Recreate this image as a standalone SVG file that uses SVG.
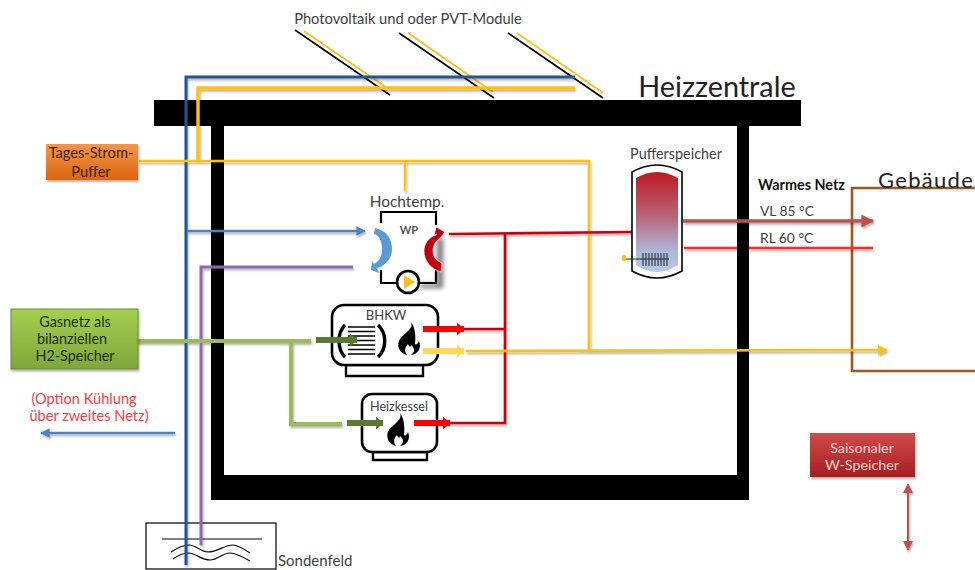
<svg xmlns="http://www.w3.org/2000/svg" width="975" height="570" viewBox="0 0 975 570">
<defs>
<linearGradient id="orange" x1="0" y1="0" x2="0" y2="1"><stop offset="0" stop-color="#f79646"/><stop offset="1" stop-color="#d9650f"/></linearGradient>
<linearGradient id="green" x1="0" y1="0" x2="0" y2="1"><stop offset="0" stop-color="#a4d04f"/><stop offset="1" stop-color="#7fa63a"/></linearGradient>
<linearGradient id="red" x1="0" y1="0" x2="0" y2="1"><stop offset="0" stop-color="#d04a4a"/><stop offset="1" stop-color="#a51f22"/></linearGradient>
<linearGradient id="tank" x1="0" y1="0" x2="0" y2="1"><stop offset="0" stop-color="#bb1a22"/><stop offset="0.45" stop-color="#b9667a"/><stop offset="0.8" stop-color="#adb9dc"/><stop offset="1" stop-color="#b4c8ea"/></linearGradient>
<filter id="sh" x="-20%" y="-20%" width="140%" height="150%"><feDropShadow dx="1" dy="2" stdDeviation="1.2" flood-color="#000" flood-opacity="0.3"/></filter>
<filter id="blur" x="-100%" y="-20%" width="300%" height="140%"><feGaussianBlur stdDeviation="2.5"/></filter>
<marker id="mBlue" viewBox="0 0 10 10" refX="9" refY="5" markerWidth="4" markerHeight="4" orient="auto-start-reverse"><path d="M0 0L10 5L0 10z" fill="#4f81bd"/></marker>
<marker id="mBrick" viewBox="0 0 10 10" refX="9" refY="5" markerWidth="3.8" markerHeight="3.8" orient="auto-start-reverse"><path d="M0 0L10 5L0 10z" fill="#c0504d"/></marker>
<marker id="mBrick2" viewBox="0 0 10 10" refX="9" refY="5" markerWidth="5" markerHeight="5" orient="auto-start-reverse"><path d="M0 0L10 5L0 10z" fill="#c0504d"/></marker>
<marker id="mYel" viewBox="0 0 10 10" refX="9" refY="5" markerWidth="4" markerHeight="4" orient="auto"><path d="M0 0L10 5L0 10z" fill="#fdc010"/></marker>
<marker id="mRed" viewBox="0 0 6 10" refX="5.500" refY="5" markerWidth="1.300" markerHeight="2.200" orient="auto"><path d="M0 0L6 5L0 10z" fill="#ff0000"/></marker>
<marker id="mPale" viewBox="0 0 6 10" refX="5.500" refY="5" markerWidth="1.300" markerHeight="2.200" orient="auto"><path d="M0 0L6 5L0 10z" fill="#ffd854"/></marker>
<marker id="mDk" viewBox="0 0 6 10" refX="5.500" refY="5" markerWidth="1.300" markerHeight="2.200" orient="auto"><path d="M0 0L6 5L0 10z" fill="#5a7a30"/></marker>
<path id="flame" d="M3 -17C6 -10 -3 -7 -8 0C-12 6 -9 14 -1 16C-4 12 -3 8 0 5C1 8 3 9 3 6C7 9 7 13 3 16C10 15 14 9 11 2C10 5 8 6 7 5C8 -3 7 -12 3 -17z" fill="#000"/>
</defs>
<style>
text{font-family:"Lato","Open Sans","Liberation Sans",sans-serif;fill:#404040}
.c{text-anchor:middle}
.l{fill:none;stroke-linecap:butt;stroke-linejoin:miter}
.b{stroke:#1f5796;stroke-width:3}
.y{stroke:#fdc010}
.pk{stroke:#8b6bb1;stroke-width:3}
.g{stroke:#9bbb59;stroke-width:4}
.r{stroke:#c8000f;stroke-width:2.6}
.bk{stroke:#000;stroke-width:1.6}
.out{fill:#fff;stroke:#000;stroke-width:2.6}
</style>
<rect width="975" height="570" fill="#fff"/>

<g id="heizzentrale">
<path d="M154 100H801V126H749V500H211V126H154Z M224 126V475H737V126Z" fill="#000" fill-rule="evenodd"/>
<text x="717" y="97" class="c" font-size="28.8" style="fill:#222">Heizzentrale</text>
</g>

<g id="pv-module">
<text x="408" y="24" class="c" font-size="14.7">Photovoltaik und oder PVT-Module</text>
<g class="l bk"><path d="M295 30L390 95"/><path d="M399 33L494 98"/><path d="M508 33L603 98"/></g>
<g class="l y" stroke-width="1.8"><path d="M304 31L387 88"/><path d="M408 33L493 92"/><path d="M517 33L603 93"/></g>
</g>

<g id="sondenfeld">
<rect x="146" y="523" width="130" height="46" fill="none" stroke="#000" stroke-width="1.2"/>
<path d="M162 539H262" stroke="#000" stroke-width="1.2"/>
<path d="M171 552C180 546 184 545 189 545C196 545 201 552 208 552C218 552 224 545 233 545C238 545 244 549 250 553M173 559C180 554 184 553 188 553C196 553 201 560 210 560C218 560 222 553 230 553C236 553 243 557 250 561" fill="none" stroke="#000" stroke-width="1.2"/>
<text x="278" y="566" font-size="15">Sondenfeld</text>
</g>

<g id="gebaeude">
<path d="M975 188H852V371H975" fill="none" stroke="#a5561c" stroke-width="2.6"/>
<text x="878" y="188" font-size="22" letter-spacing="1.300" style="fill:#222">Gebäude</text>
</g>

<g id="connectors">
<g filter="url(#sh)">
<path class="l b" d="M575 77H186V565"/>
<path class="l y" stroke-width="3.4" d="M575 88H198V161"/>
<path class="l y" stroke-width="2.6" d="M139 161H589V352"/>
<path class="l y" stroke-width="2.4" d="M405 161V191"/>
<path class="l" stroke="#4f81bd" stroke-width="2.4" marker-end="url(#mBlue)" d="M187 231H365"/>
<path class="l pk" d="M353 267H201V545"/>
<path class="l g" d="M136 341H311"/>
<path class="l g" d="M291 341V424H342"/>
<path class="l r" d="M449 234L632 232"/>
<path class="l r" d="M505 234V423H450"/>
<path class="l r" d="M464 329H505"/>
<path class="l y" stroke-width="2.6" marker-end="url(#mYel)" d="M466 351L887 350"/>
<path class="l" stroke="#c0504d" stroke-width="3.4" marker-end="url(#mBrick)" d="M683 221H873"/>
<path class="l" stroke="#ff2a2a" stroke-width="2.4" d="M684 248H737M749 248H873"/>
<path class="l" stroke="#4f81bd" stroke-width="2.4" marker-end="url(#mBlue)" d="M175 433H41"/>
<path class="l" stroke="#c0504d" stroke-width="2" marker-start="url(#mBrick2)" marker-end="url(#mBrick2)" d="M908 484V550"/>
</g>
</g>

<g id="tages-strom-puffer">
<rect x="46" y="144" width="92" height="36" fill="url(#orange)" filter="url(#sh)"/>
<text class="c" font-size="14.6" style="fill:#3b2410"><tspan x="91" y="158">Tages-Strom-</tspan><tspan x="91" y="177">Puffer</tspan></text>
</g>

<g id="gasnetz">
<rect x="11" y="309" width="127" height="60" fill="url(#green)" stroke="#6a8a30" filter="url(#sh)"/>
<text class="c" font-size="14.4" style="fill:#22300c"><tspan x="75" y="327">Gasnetz als</tspan><tspan x="72" y="344">bilanziellen</tspan><tspan x="75" y="361">H2-Speicher</tspan></text>
</g>

<g id="option-kuehlung">
<text class="c" font-size="14.6" style="fill:#ff3b3b"><tspan x="84" y="404">(Option Kühlung</tspan><tspan x="89" y="421">über zweites Netz)</tspan></text>
</g>

<g id="waermepumpe">
<text x="407" y="207" class="c" font-size="15.4">Hochtemp.</text>
<path d="M437 238H443V288H420V284H437Z" fill="#000" opacity="0.55" filter="url(#blur)"/>
<path d="M381 223V212H436V225M436 270V283H419M397 283H381V270" fill="none" stroke="#000" stroke-width="2.2"/>
<text x="409" y="234" class="c" font-size="11" font-weight="700" style="fill:#555">WP</text>
<path d="M375 228C388 231 392 240 392 249C392 259 385 266 377 268L379 273L371 270L372 261L374 264C380 261 382 256 382 249C382 241 379 235 374 234Z" fill="#5b9bd5"/>
<path d="M441 237L445 232L436 227L434 236L437 234C428 238 424 244 424 251C424 261 431 269 441 272L442 263C437 261 433 257 433 251C433 245 436 241 441 237Z" fill="#c00010" stroke="#fff" stroke-width="0.6"/>
<circle cx="408" cy="282" r="11" fill="#fff" stroke="#000" stroke-width="2.6"/>
<path d="M404 275L415 282L404 289z" fill="#fdc010"/>
</g>

<g id="bhkw">
<path d="M346 365H423V376H346Z" fill="#fff" stroke="#000" stroke-width="2.4"/>
<rect x="332" y="305" width="106" height="60" rx="12" class="out"/>
<text x="386" y="320" class="c" font-size="13">BHKW</text>
<g stroke="#000" stroke-width="1.4"><path d="M348 327H375M348 331.500H375M348 336H375M348 340.500H375M348 345H375M348 349.500H375M348 354H375"/></g>
<path d="M345 325C337 333 337 349 345 357" fill="none" stroke="#000" stroke-width="3.4"/>
<path d="M378 325C387 333 387 349 378 357" fill="none" stroke="#000" stroke-width="3.4"/>
<use href="#flame" x="408" y="339"/>
</g>

<g id="heizkessel">
<path d="M373 452H427V460H373Z" fill="#fff" stroke="#000" stroke-width="2.4"/>
<rect x="362" y="394" width="75" height="58" rx="10" class="out"/>
<text x="399" y="411" class="c" font-size="12.6">Heizkessel</text>
<use href="#flame" x="397" y="430"/>
</g>

<g id="pufferspeicher">
<text x="676" y="159" class="c" font-size="14.4">Pufferspeicher</text>
<path d="M632 172Q657 158 682 172V271Q657 285 632 271Z" fill="#fff" stroke="#000" stroke-width="1.6"/>
<path d="M636 178Q657 166 678 178V265Q657 279 636 265Z" fill="url(#tank)"/>
<path d="M625 259H669" stroke="#222" stroke-width="1"/>
<path d="M643 253V266M646 253V266M649 253V266M652 253V266M655 253V266M658 253V266M661 253V266M664 253V266M667 253V266" stroke="#223" stroke-width="1"/>
<ellipse cx="624" cy="258" rx="2.2" ry="3.2" fill="#fdc010"/>
</g>

<g id="warmes-netz">
<text x="758" y="190" font-size="14.4" font-weight="700" style="fill:#111">Warmes Netz</text>
<text x="760" y="216" font-size="13.8">VL 85 °C</text>
<text x="760" y="243" font-size="13.8">RL 60 °C</text>
</g>

<g id="saisonaler-speicher">
<rect x="810" y="433" width="105" height="44" fill="url(#red)" filter="url(#sh)"/>
<text class="c" font-size="14.3" style="fill:#f5d0d0"><tspan x="862" y="453">Saisonaler</tspan><tspan x="862" y="470">W-Speicher</tspan></text>
</g>

<g id="device-arrows">
<path class="l" stroke="#5a7a30" stroke-width="6" marker-end="url(#mDk)" d="M316 340H357"/>
<path class="l" stroke="#5a7a30" stroke-width="6" marker-end="url(#mDk)" d="M347 423H383"/>
<path class="l" stroke="#ff0000" stroke-width="6" marker-end="url(#mRed)" d="M423 329H464"/>
<path class="l" stroke="#ffd854" stroke-width="6" marker-end="url(#mPale)" d="M423 351H464"/>
<path class="l" stroke="#ff0000" stroke-width="6" marker-end="url(#mRed)" d="M414 423H450"/>
</g>
</svg>
